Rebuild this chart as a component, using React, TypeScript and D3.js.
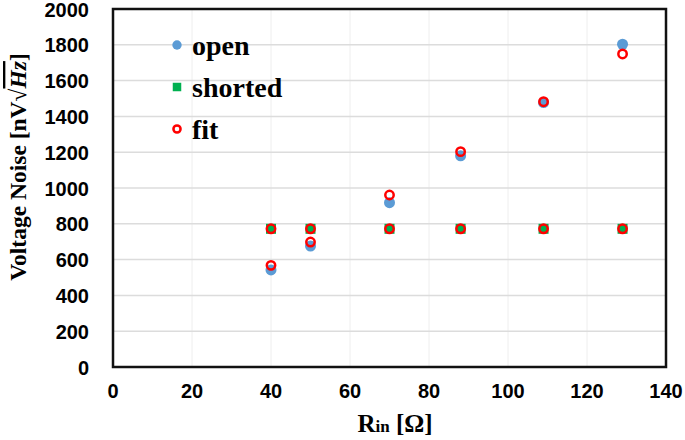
import React, { useRef, useEffect } from "react";
import * as d3 from "d3";

const rin = [40, 50, 70, 88, 109, 129];
const openNoise = [542, 676, 918, 1180, 1477, 1803];
const shortedNoise = [772, 772, 772, 772, 772, 772];
const fitOpen = [568, 698, 961, 1203, 1482, 1749];
const fitShorted = [772, 772, 772, 772, 772, 772];
const xTicks = [0, 20, 40, 60, 80, 100, 120, 140];
const yTicks = [0, 200, 400, 600, 800, 1000, 1200, 1400, 1600, 1800, 2000];
const legendLabels = ["open", "shorted", "fit"];

const App: React.FC = () => {
  const ref = useRef<SVGSVGElement | null>(null);

  useEffect(() => {
    if (!ref.current) return;
    const svg = d3.select(ref.current);
    svg.selectAll("*").remove();

    const width = 685;
    const height = 440;
    const m = { left: 113, right: 19, top: 9, bottom: 73 };

    const x = d3.scaleLinear().domain([0, 140]).range([m.left, width - m.right]);
    const y = d3.scaleLinear().domain([0, 2000]).range([height - m.bottom, m.top]);

    svg.attr("width", width).attr("height", height);

    // grid
    svg.append("g")
      .selectAll("line")
      .data(xTicks.slice(1, -1))
      .enter()
      .append("line")
      .attr("x1", (d) => x(d)).attr("x2", (d) => x(d))
      .attr("y1", y(0)).attr("y2", y(2000))
      .attr("stroke", "#eeeeee").attr("stroke-width", 1);

    svg.append("g")
      .selectAll("line")
      .data(yTicks.slice(1, -1))
      .enter()
      .append("line")
      .attr("x1", x(0)).attr("x2", x(140))
      .attr("y1", (d) => y(d)).attr("y2", (d) => y(d))
      .attr("stroke", "#dcdcdc").attr("stroke-width", 1.5);

    // frame
    svg.append("rect")
      .attr("x", x(0)).attr("y", y(2000))
      .attr("width", x(140) - x(0)).attr("height", y(0) - y(2000))
      .attr("fill", "none").attr("stroke", "#111").attr("stroke-width", 2.5);

    const tickFont = "'Liberation Sans', Arial, sans-serif";
    svg.append("g")
      .selectAll("text")
      .data(yTicks)
      .enter()
      .append("text")
      .attr("x", 89).attr("y", (d) => y(d) + 7.5)
      .attr("text-anchor", "end")
      .attr("font-family", tickFont).attr("font-weight", "bold").attr("font-size", 20)
      .text((d) => d);

    svg.append("g")
      .selectAll("text")
      .data(xTicks)
      .enter()
      .append("text")
      .attr("x", (d) => x(d)).attr("y", 398)
      .attr("text-anchor", "middle")
      .attr("font-family", tickFont).attr("font-weight", "bold").attr("font-size", 20)
      .text((d) => d);

    const serif = "'Liberation Serif', 'Times New Roman', serif";

    // axis titles
    const xt = svg.append("text")
      .attr("x", 395).attr("y", 432)
      .attr("text-anchor", "middle")
      .attr("font-family", serif).attr("font-weight", "bold").attr("font-size", 25);
    xt.append("tspan").text("R");
    xt.append("tspan").attr("font-size", 17).text("in");
    xt.append("tspan").text(" [Ω]");

    const yt = svg.append("text")
      .attr("transform", "translate(26,167) rotate(-90)")
      .attr("text-anchor", "middle")
      .attr("font-family", serif).attr("font-weight", "bold").attr("font-size", 23.5);
    yt.append("tspan").text("Voltage Noise [nV√");
    yt.append("tspan")
      .attr("font-style", "italic")
      .style("text-decoration", "overline")
      .text("Hz");
    yt.append("tspan").text("]");

    const series = [
      { label: legendLabels[0], values: [openNoise] },
      { label: legendLabels[1], values: [shortedNoise] },
      { label: legendLabels[2], values: [fitOpen, fitShorted] },
    ];

    const draw = (g: d3.Selection<SVGGElement, unknown, null, undefined>, i: number, cx: number, cy: number, s: number) => {
      if (i === 0) {
        g.append("circle").attr("cx", cx).attr("cy", cy).attr("r", 5.5 * s).attr("fill", "#5B9BD5");
      } else if (i === 1) {
        g.append("rect").attr("x", cx - 5 * s).attr("y", cy - 5 * s)
          .attr("width", 10 * s).attr("height", 10 * s).attr("fill", "#00B050");
      } else {
        g.append("circle").attr("cx", cx).attr("cy", cy).attr("r", 4.2 * s)
          .attr("fill", "none").attr("stroke", "#FF0000").attr("stroke-width", 2.5);
      }
    };

    series.forEach((s, i) => {
      const g = svg.append("g");
      s.values.forEach((arr) => arr.forEach((v, j) => draw(g, i, x(rin[j]), y(v), 1)));
    });

    // legend
    const leg = svg.append("g");
    series.forEach((s, i) => {
      const cy = 45 + i * 42;
      draw(leg, i, 177, cy, 0.85);
      leg.append("text")
        .attr("x", 192).attr("y", cy + 10)
        .attr("font-family", serif).attr("font-weight", "bold").attr("font-size", 28)
        .text(s.label);
    });
  }, []);

  return <svg ref={ref} style={{ position: "absolute", left: 0, top: 0 }} />;
};

export default App;
